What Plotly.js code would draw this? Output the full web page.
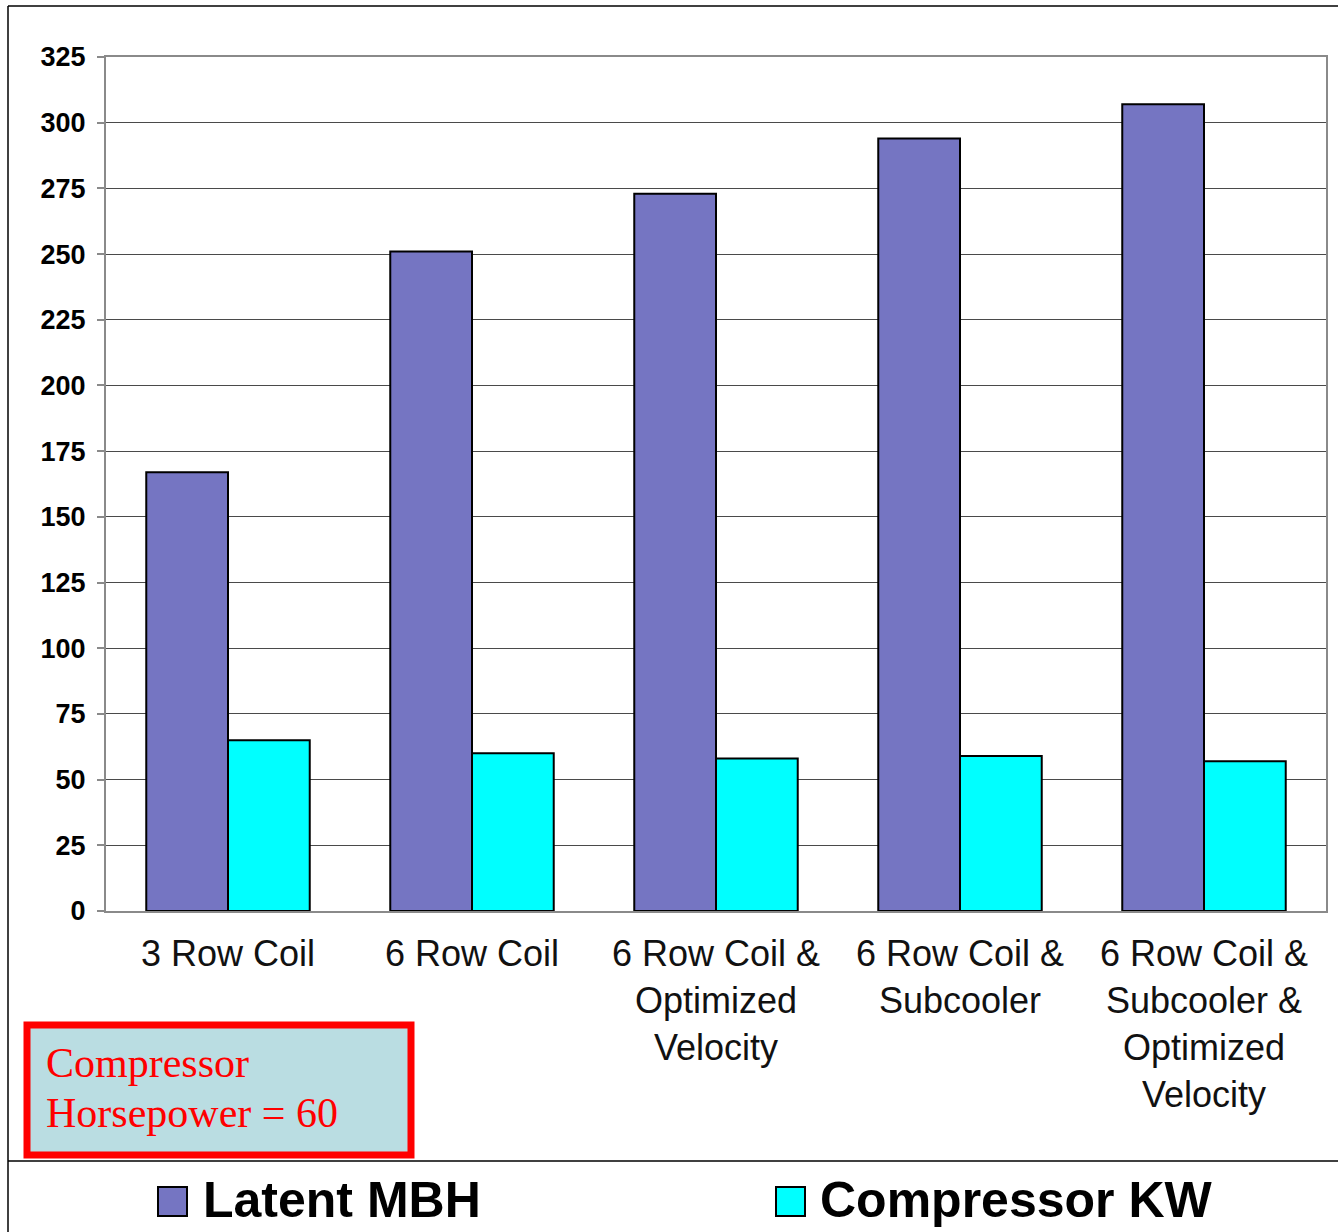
<!DOCTYPE html>
<html>
<head>
<meta charset="utf-8">
<script src="https://cdn.plot.ly/plotly-3.0.1.min.js"></script>
<style>html,body{margin:0;padding:0;background:#fff;}#chart{width:1338px;height:1232px;}</style>
</head>
<body>
<div id="chart"></div>
<script>
const categories = [
  "3 Row Coil",
  "6 Row Coil",
  "6 Row Coil &<br>Optimized<br>Velocity",
  "6 Row Coil &<br>Subcooler",
  "6 Row Coil &<br>Subcooler &<br>Optimized<br>Velocity"
];
const latentMBH = [167, 251, 273, 294, 307];
const compressorKW = [65, 60, 58, 59, 57];
const seriesNames = ["Latent MBH", "Compressor KW"];
const yTicks = [0, 25, 50, 75, 100, 125, 150, 175, 200, 225, 250, 275, 300, 325];
const noteLines = ["Compressor", "Horsepower = 60"];

const W = 1338, H = 1232;
const L = 106, R = 1326, T = 57, B = 911;
const px = x => (x - L) / (R - L);
const py = y => (B - y) / (B - T);

const purple = "#7575c2";
const cyan = "#00ffff";

const traces = [
  {type: "bar", name: seriesNames[0], x: categories, y: latentMBH,
   marker: {color: purple, line: {color: "#000", width: 2}}},
  {type: "bar", name: seriesNames[1], x: categories, y: compressorKW,
   marker: {color: cyan, line: {color: "#000", width: 2}}}
];

const shapes = [
  {type: "line", xref: "paper", yref: "paper", x0: px(8), x1: px(1340), y0: py(6), y1: py(6), line: {color: "#000", width: 1.5}},
  {type: "line", xref: "paper", yref: "paper", x0: px(8), x1: px(8), y0: py(6), y1: py(1234), line: {color: "#000", width: 1.5}},
  {type: "line", xref: "paper", yref: "paper", x0: px(8), x1: px(1340), y0: py(1161), y1: py(1161), line: {color: "#000", width: 1.5}},
  {type: "rect", xref: "paper", yref: "paper", x0: px(27), x1: px(411), y0: py(1025), y1: py(1155),
   fillcolor: "#badde2", line: {color: "#ff0000", width: 7}},
  {type: "rect", xref: "paper", yref: "paper", x0: px(158), x1: px(187), y0: py(1187), y1: py(1216),
   fillcolor: purple, line: {color: "#000", width: 2}},
  {type: "rect", xref: "paper", yref: "paper", x0: px(776), x1: px(805), y0: py(1187), y1: py(1216),
   fillcolor: cyan, line: {color: "#000", width: 2}}
];

const noteFont = {family: "Liberation Serif, Times New Roman, serif", size: 42, color: "#ff0000"};
const legFont = {family: "Liberation Sans, Arial, sans-serif", size: 50, color: "#000"};
const annotations = [
  {xref: "paper", yref: "paper", x: px(44), y: py(1063), xanchor: "left", yanchor: "middle", align: "left",
   text: noteLines[0], showarrow: false, font: noteFont},
  {xref: "paper", yref: "paper", x: px(44), y: py(1113), xanchor: "left", yanchor: "middle", align: "left",
   text: noteLines[1], showarrow: false, font: noteFont},
  {xref: "paper", yref: "paper", x: px(201), y: py(1200), xanchor: "left", yanchor: "middle",
   text: "<b>" + seriesNames[0] + "</b>", showarrow: false, font: legFont},
  {xref: "paper", yref: "paper", x: px(818), y: py(1200), xanchor: "left", yanchor: "middle",
   text: "<b>" + seriesNames[1] + "</b>", showarrow: false, font: legFont}
];

const layout = {
  width: W, height: H,
  margin: {l: L, r: W - R, t: T, b: H - B, pad: 0},
  paper_bgcolor: "#fff", plot_bgcolor: "#fff",
  showlegend: false,
  barmode: "group",
  bargap: 0.33,
  bargroupgap: 0,
  font: {family: "Liberation Sans, Arial, sans-serif", color: "#000"},
  xaxis: {
    type: "category",
    showline: true, linecolor: "#8a8a8a", linewidth: 2, mirror: true,
    showgrid: false, ticks: "",
    ticklabelstandoff: 10,
    tickfont: {size: 36, color: "#111"}
  },
  yaxis: {
    range: [0, 325],
    tickvals: yTicks,
    ticktext: yTicks.map(v => "<b>" + v + "</b>"),
    showline: true, linecolor: "#8a8a8a", linewidth: 2, mirror: true,
    showgrid: true, gridcolor: "#4a4a4a", gridwidth: 1,
    zeroline: false,
    ticks: "outside", ticklen: 7, tickcolor: "#8a8a8a", tickwidth: 2,
    ticklabelstandoff: 6,
    tickfont: {size: 27, color: "#000"}
  },
  shapes: shapes,
  annotations: annotations
};

Plotly.newPlot("chart", traces, layout, {displayModeBar: false, staticPlot: true});
</script>
</body>
</html>
